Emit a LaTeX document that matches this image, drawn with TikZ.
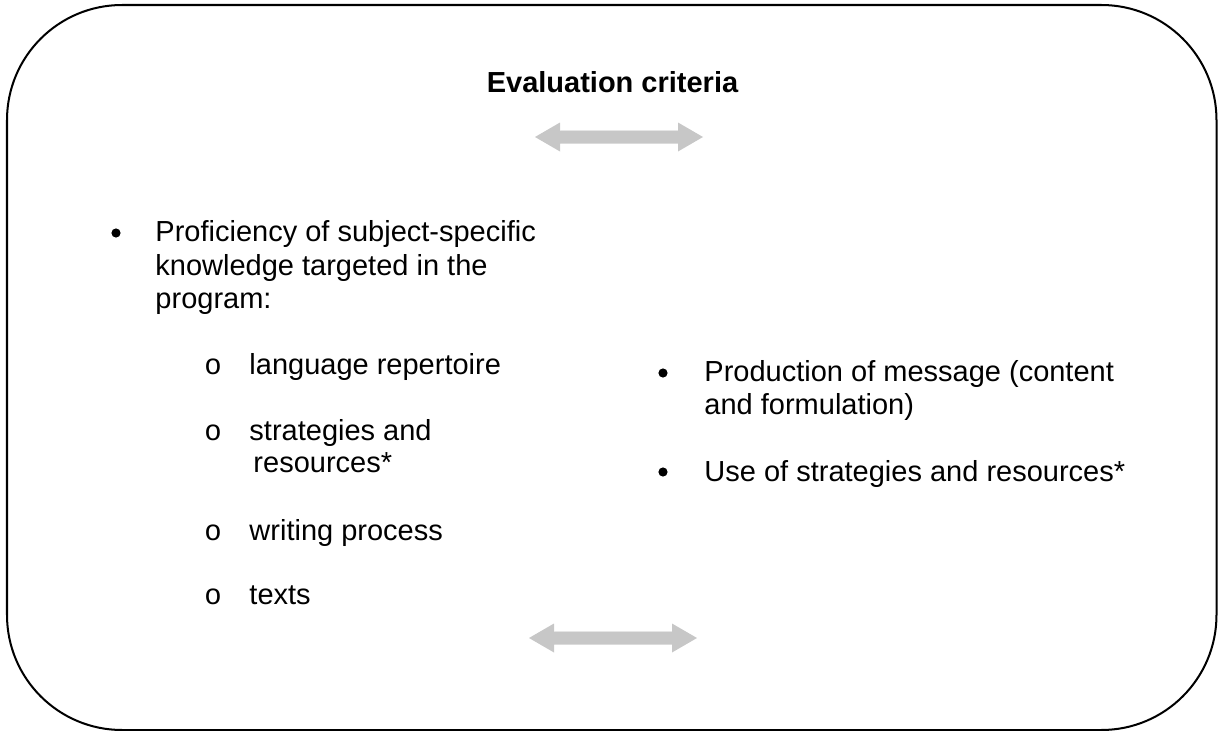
\documentclass[tikz,border=0pt]{standalone}
\usepackage{fontspec}
\setmainfont{Liberation Sans}
\newfontfamily\kringelfont{Liberation Mono}
\begin{document}
\begin{tikzpicture}[x=0.4138pt,y=-0.4138pt,
  zeile/.style={anchor=base west,inner sep=0pt,font=\fontsize{12}{14}\selectfont},
  punkt/.style={circle,fill=black,inner sep=0pt,minimum size=3.8pt},
  kringel/.style={anchor=base,inner sep=0pt,font=\fontsize{12}{14}\kringelfont},
  pfeilgrau/.style={fill=black!22}]
\def\pfeil#1#2{% linke Spitze x, Mitte y
\fill[pfeilgrau] (#1,#2) -- ++(25,-14.5) -- ++(0,8) -- ++(118,0) -- ++(0,-8)
  -- ++(25,14.5) -- ++(-25,14.5) -- ++(0,-8) -- ++(-118,0) -- ++(0,8) -- cycle;
\draw[black!10,line width=0.8pt] (#1,#2) ++(25,-6.5) -- ++(118,0);
}
\useasboundingbox (0,0) rectangle (1221,731);
\draw[line width=0.83pt,rounded corners=47.6pt] (7,5) rectangle (1216.5,730);
% Titel und Pfeile
\node (titel) [anchor=base,inner sep=0pt,font=\fontsize{12}{14}\bfseries\selectfont] at (612.5,92) {Evaluation criteria};
\pfeil{535}{137}
\pfeil{529}{638}
% linke Spalte
\node (p1) [punkt] at (116,233) {};
\node (l1) [zeile] at (155,242) {Proficiency of subject-specific};
\node (l2) [zeile] at (155,275) {knowledge targeted in the};
\node (l3) [zeile] at (155,308) {program:};
\node (k1) [kringel] at (213,374) {o};
\node (s1) [zeile] at (249,374) {language repertoire};
\node (k2) [kringel] at (213,440) {o};
\node (s2) [zeile] at (249,440) {strategies and};
\node (s2b) [zeile] at (253,472) {resources*};
\node (k3) [kringel] at (213,540) {o};
\node (s3) [zeile] at (249,540) {writing process};
\node (k4) [kringel] at (213,604) {o};
\node (s4) [zeile] at (249,604) {texts};
% rechte Spalte
\node (p2) [punkt] at (663,373) {};
\node (r1) [zeile] at (704,381) {Production of message (content};
\node (r1b) [zeile] at (704,414) {and formulation)};
\node (p3) [punkt] at (663,472) {};
\node (r2) [zeile] at (704,481) {Use of strategies and resources*};
\end{tikzpicture}
\end{document}
